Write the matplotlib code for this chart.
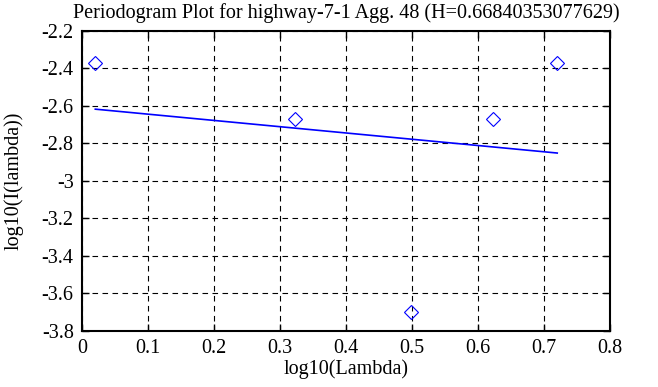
import matplotlib
matplotlib.use("Agg")
import matplotlib.pyplot as plt

# periodogram points (log10 lambda vs log10 I(lambda))
log_lambda = [0.0202, 0.3222, 0.4983, 0.6232, 0.7201]
log_I = [-2.372, -2.669, -3.700, -2.669, -2.369]

# least squares fit line endpoints
fit_x = [0.0202, 0.7201]
fit_y = [-2.617, -2.851]

plt.rcParams['font.family'] = ['Liberation Serif', 'DejaVu Serif']
plt.rcParams['font.size'] = 14.5

fig = plt.figure(figsize=(6.58, 3.87), dpi=100)
ax = fig.add_axes([0.1246, 0.1447, 0.8024, 0.7753])

ax.plot(log_lambda, log_I, linestyle='none', marker='D', markersize=7.5,
        markerfacecolor='none', markeredgecolor='blue', markeredgewidth=0.8)
ax.plot(fit_x, fit_y, color='blue', linewidth=1.2)

ax.set_xlim(0, 0.8)
ax.set_ylim(-3.8, -2.2)
ax.set_xticks([0, 0.1, 0.2, 0.3, 0.4, 0.5, 0.6, 0.7, 0.8])
ax.set_xticklabels(['0', '0.1', '0.2', '0.3', '0.4', '0.5', '0.6', '0.7', '0.8'])
ax.set_yticks([-3.8, -3.6, -3.4, -3.2, -3, -2.8, -2.6, -2.4, -2.2])
ax.set_yticklabels(['-3.8', '-3.6', '-3.4', '-3.2', '-3', '-2.8', '-2.6', '-2.4', '-2.2'])

ax.grid(True, color='black', linestyle=(0, (5, 4)), linewidth=0.8)
ax.tick_params(direction='in', length=5, width=1, top=True, right=True, labelsize=14.5)
ax.tick_params(axis='x', pad=6)
ax.tick_params(axis='y', pad=6)
for s in ax.spines.values():
    s.set_linewidth(1.5)

ax.set_xlabel('log10(Lambda)', labelpad=1)
ax.set_ylabel('log10(I(lambda))', labelpad=13)
ax.set_title('Periodogram Plot for highway-7-1 Agg. 48 (H=0.66840353077629)', fontsize=14.5, pad=9.5)

fig.savefig('out.png', dpi=100)
